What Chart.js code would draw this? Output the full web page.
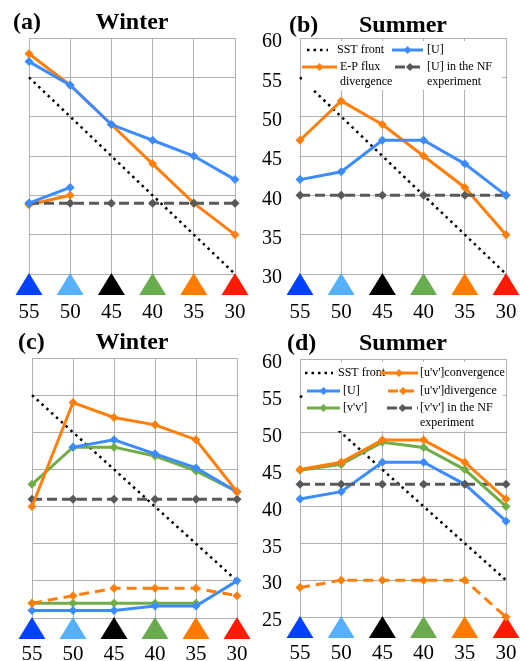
<!DOCTYPE html>
<html>
<head>
<meta charset="utf-8">
<script src="https://cdn.jsdelivr.net/npm/chart.js@4"></script>
<style>
  body { margin: 0; background: #fff; width: 520px; height: 661px; position: relative; overflow: hidden; }
  canvas { position: absolute; }
</style>
</head>
<body>
<canvas id="pa" width="260" height="330" style="left:0;top:0"></canvas>
<canvas id="pb" width="280" height="330" style="left:240px;top:0"></canvas>
<canvas id="pc" width="260" height="331" style="left:0;top:330px"></canvas>
<canvas id="pd" width="280" height="331" style="left:240px;top:330px"></canvas>
<script>
// latitude categories and the marker colour shown under each one
const lats = ['55', '50', '45', '40', '35', '30'];
const triangleColors = ['#0040ff', '#55b1ff', '#000000', '#6aab4f', '#ff7b00', '#ff1a00'];
const sstFront = [55, 50, 45, 40, 35, 30];

// (a) winter
const aU = [57, 54, 49, 47, 45, 42];
const aUshort = [39, 41, null, null, null, null];
const aEP = [58, 54, 49, 44, 39, 35];
const aEPshort = [38.8, 40, null, null, null, null];
const aNF = [39, 39, 39, 39, 39, 39];

// (b) summer
const bU = [42, 43, 47, 47, 44, 40];
const bEP = [47, 52, 49, 45, 41, 35];
const bNF = [40, 40, 40, 40, 40, 40];

// (c) winter
const cConv = [40, 54, 52, 51, 49, 42];
const cU = [null, 48, 49, 47.1, 45.2, 42];
const cVV = [43, 48, 48, 46.8, 44.8, 42];
const cNF = [41, 41, 41, 41, 41, 41];
const cDiv = [27, 28, 29, 29, 29, 28];
const cUlow = [26, 26, 26, 26.6, 26.6, 30];
const cVVlow = [27, 27, 27, 27, 27, null];

// (d) summer
const dConv = [45, 46, 49, 49, 46, 41];
const dVV = [44.9, 45.7, 48.7, 48, 45, 40];
const dU = [41, 42, 46, 46, 43, 38];
const dDiv = [29, 30, 30, 30, 30, 25];
const dNF = [43, 43, 43, 43, 43, 43];

const serif = '"Liberation Serif", "Times New Roman", serif';
const gridColor = '#b0b0b0';
const ORANGE = '#ff7f0a';
const BLUE = '#3d8cff';
const GREEN = '#70ad47';
const GRAY = '#595959';

function line(label, data, color, extra) {
  return Object.assign({
    label: label, data: data,
    borderColor: color, backgroundColor: color,
    borderWidth: 3, pointStyle: 'rectRot', pointRadius: 4.5, pointBorderWidth: 0,
    tension: 0, clip: false, spanGaps: false
  }, extra || {});
}
const sst = () => line('SST front', sstFront, '#000', { borderWidth: 2.5, borderDash: [2.5, 4], pointRadius: 0 });
const nf = (label, data) => line(label, data, GRAY, { borderDash: [10, 5] });

function makeDecor(d) {
  return {
    id: 'decor',
    beforeDatasetsDraw(chart) {
      const ctx = chart.ctx, area = chart.chartArea, xs = chart.scales.x;
      ctx.save();
      triangleColors.forEach((c, i) => {
        const x = xs.getPixelForValue(i);
        ctx.fillStyle = c;
        ctx.beginPath();
        ctx.moveTo(x, area.bottom - 1);
        ctx.lineTo(x + 13.5, area.bottom + 21);
        ctx.lineTo(x - 13.5, area.bottom + 21);
        ctx.closePath();
        ctx.fill();
      });
      ctx.restore();
    },
    afterDatasetsDraw(chart) {
      const ctx = chart.ctx;
      ctx.save();
      if (d.legend) {
        const lg = d.legend;
        ctx.fillStyle = '#fff';
        ctx.fillRect(lg.box[0], lg.box[1], lg.box[2], lg.box[3]);
        ctx.font = '12px ' + serif;
        ctx.textBaseline = 'middle';
        ctx.textAlign = 'left';
        lg.items.forEach(it => {
          const ds = chart.data.datasets[it.ds];
          ctx.strokeStyle = ds.borderColor;
          ctx.lineWidth = ds.borderWidth;
          ctx.setLineDash(ds.borderDash || []);
          ctx.beginPath();
          ctx.moveTo(it.x1, it.y);
          ctx.lineTo(it.x2, it.y);
          ctx.stroke();
          ctx.setLineDash([]);
          if (ds.pointRadius !== 0) {
            const mx = (it.x1 + it.x2) / 2, r = 4;
            ctx.fillStyle = ds.borderColor;
            ctx.beginPath();
            ctx.moveTo(mx, it.y - r); ctx.lineTo(mx + r, it.y);
            ctx.lineTo(mx, it.y + r); ctx.lineTo(mx - r, it.y);
            ctx.closePath(); ctx.fill();
          }
          ctx.fillStyle = '#000';
          const lines = it.text || [ds.label];
          lines.forEach((t, k) => ctx.fillText(t, it.tx, it.y + k * 15));
        });
      }
      ctx.fillStyle = '#000';
      ctx.font = 'bold 24px ' + serif;
      ctx.textBaseline = 'alphabetic';
      ctx.textAlign = 'left';
      ctx.fillText(d.tag, d.tagX, d.baseY);
      ctx.textAlign = 'center';
      ctx.fillText(d.title, d.titleX, d.baseY);
      ctx.restore();
    }
  };
}

// fix axis boxes and drop label overhang so the plot area lands where the figure has it
function fixBox(s, w, h) {
  if (w !== null) s.width = w;
  if (h !== null) s.height = h;
  s.paddingLeft = 0; s.paddingRight = 0; s.paddingTop = 0; s.paddingBottom = 0;
}

function panel(id, p) {
  new Chart(document.getElementById(id), {
    type: 'line',
    data: { labels: lats, datasets: p.datasets },
    options: {
      responsive: false,
      animation: false,
      devicePixelRatio: 1,
      events: [],
      layout: { padding: p.pad },
      plugins: { legend: { display: false }, tooltip: { enabled: false } },
      scales: {
        x: {
          offset: false,
          grid: { color: gridColor, drawTicks: false },
          border: { color: gridColor },
          ticks: { color: '#000', font: { family: serif, size: 21 }, padding: p.xpad, maxRotation: 0, autoSkip: false },
          afterFit: s => fixBox(s, null, p.xh)
        },
        y: {
          min: p.min, max: 60,
          grid: { color: gridColor, drawTicks: false },
          border: { color: gridColor },
          ticks: { display: p.showY, stepSize: 5, color: '#000', font: { family: serif, size: 20 }, padding: 18, labelOffset: 4 },
          afterFit: s => fixBox(s, p.yw, null)
        }
      }
    },
    plugins: [makeDecor(p.decor)]
  });
}

panel('pa', {
  min: 30, showY: false, yw: 29, xh: 56, xpad: 26,
  pad: { top: 38, right: 25, left: 0, bottom: 0 },
  datasets: [
    line('[U]', aU, BLUE),
    line('[U] ', aUshort, BLUE),
    nf('[U] in the NF experiment', aNF),
    line('E-P flux divergence', aEP, ORANGE),
    line('E-P flux divergence ', aEPshort, ORANGE),
    sst()
  ],
  decor: { tag: '(a)', tagX: 13, title: 'Winter', titleX: 132, baseY: 29 }
});

panel('pb', {
  min: 30, showY: true, yw: 60, xh: 56, xpad: 26,
  pad: { top: 38, right: 14, left: 0, bottom: 0 },
  datasets: [
    line('[U]', bU, BLUE),
    nf('[U] in the NF experiment', bNF),
    line('E-P flux divergence', bEP, ORANGE),
    sst()
  ],
  decor: {
    tag: '(b)', tagX: 49, title: 'Summer', titleX: 163, baseY: 32,
    legend: {
      box: [62, 41, 200, 49],
      items: [
        { ds: 3, x1: 67, x2: 88, y: 50, tx: 97 },
        { ds: 0, x1: 152, x2: 183, y: 50, tx: 187 },
        { ds: 2, x1: 62, x2: 97, y: 67, tx: 100, text: ['E-P flux', 'divergence'] },
        { ds: 1, x1: 155, x2: 185, y: 67, tx: 187, text: ['[U] in the NF', 'experiment'] }
      ]
    }
  }
});

panel('pc', {
  min: 25, showY: false, yw: 32, xh: 43, xpad: 24,
  pad: { top: 28, right: 23, left: 0, bottom: 0 },
  datasets: [
    line("[u'v']convergence", cConv, ORANGE),
    line('[U]', cU, BLUE),
    line("[v'v']", cVV, GREEN),
    nf("[v'v'] in the NF experiment", cNF),
    line("[u'v']divergence", cDiv, ORANGE, { borderDash: [10, 6] }),
    line('[U] ', cUlow, BLUE),
    line("[v'v'] ", cVVlow, GREEN),
    sst()
  ],
  decor: { tag: '(c)', tagX: 18, title: 'Winter', titleX: 132, baseY: 19 }
});

panel('pd', {
  min: 25, showY: true, yw: 60, xh: 44, xpad: 24,
  pad: { top: 29, right: 14, left: 0, bottom: 0 },
  datasets: [
    line("[u'v']convergence", dConv, ORANGE),
    line("[v'v']", dVV, GREEN),
    nf("[v'v'] in the NF experiment", dNF),
    line('[U]', dU, BLUE),
    line("[u'v']divergence", dDiv, ORANGE, { borderDash: [10, 6] }),
    sst()
  ],
  decor: {
    tag: '(d)', tagX: 47, title: 'Summer', titleX: 163, baseY: 19.5,
    legend: {
      box: [63, 32, 200, 69],
      items: [
        { ds: 5, x1: 65, x2: 93, y: 43, tx: 98 },
        { ds: 0, x1: 140, x2: 178, y: 43, tx: 180 },
        { ds: 3, x1: 67, x2: 100, y: 61, tx: 103 },
        { ds: 4, x1: 148, x2: 178, y: 61, tx: 180 },
        { ds: 1, x1: 67, x2: 100, y: 78, tx: 103 },
        { ds: 2, x1: 147, x2: 178, y: 78, tx: 180, text: ["[v'v'] in the NF", 'experiment'] }
      ]
    }
  }
});
</script>
</body>
</html>
